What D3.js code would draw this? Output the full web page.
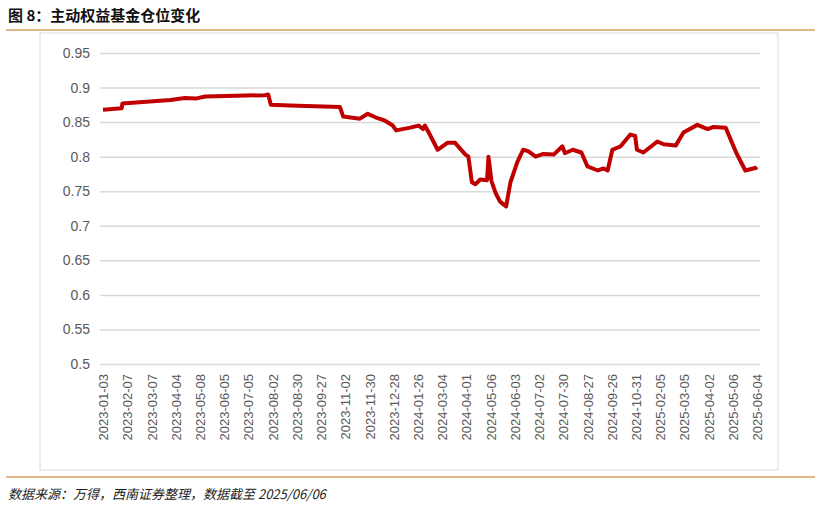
<!DOCTYPE html>
<html><head><meta charset="utf-8">
<script src="https://cdn.jsdelivr.net/npm/d3@7"></script>
<style>body{margin:0;background:#fff;font-family:"Noto Sans CJK SC","Liberation Sans",sans-serif}</style>
</head><body><svg id="chart" width="821" height="508"></svg>
<script>
// tick labels (every ~20 trading days)
const tickLabels = ["2023-01-03","2023-02-07","2023-03-07","2023-04-04","2023-05-08","2023-06-05","2023-07-05","2023-08-02","2023-08-30","2023-09-27","2023-11-02","2023-11-30","2023-12-28","2024-01-26","2024-03-04","2024-04-01","2024-05-06","2024-06-03","2024-07-02","2024-07-30","2024-08-27","2024-09-26","2024-10-31","2025-02-05","2025-03-05","2025-04-02","2025-05-06","2025-06-04"];
const dates = ["2023-01-03","2023-01-30","2023-01-31","2023-03-29","2023-04-17","2023-05-02","2023-05-14","2023-07-24","2023-07-28","2023-07-31","2023-08-22","2023-10-25","2023-10-30","2023-11-19","2023-11-28","2023-12-07","2023-12-18","2023-12-27","2023-12-31","2024-01-17","2024-01-27","2024-02-03","2024-02-06","2024-02-12","2024-02-26","2024-03-10","2024-03-19","2024-03-31","2024-04-04","2024-04-09","2024-04-14","2024-04-21","2024-05-01","2024-05-03","2024-05-07","2024-05-12","2024-05-17","2024-05-24","2024-05-29","2024-06-06","2024-06-13","2024-06-19","2024-06-28","2024-07-07","2024-07-19","2024-07-29","2024-08-01","2024-08-10","2024-08-20","2024-08-27","2024-09-09","2024-09-16","2024-09-21","2024-09-27","2024-10-09","2024-10-23","2024-10-30","2024-11-04","2024-11-30","2025-01-25","2025-02-09","2025-02-23","2025-03-04","2025-03-20","2025-04-01","2025-04-09","2025-04-26","2025-05-10","2025-05-21","2025-06-03","2025-06-04"];
const position = [0.868,0.870,0.877,0.882,0.885,0.884,0.887,0.889,0.890,0.875,0.874,0.872,0.858,0.855,0.862,0.857,0.852,0.845,0.838,0.842,0.845,0.840,0.845,0.835,0.810,0.820,0.820,0.803,0.800,0.763,0.760,0.767,0.766,0.800,0.765,0.747,0.735,0.728,0.763,0.792,0.810,0.808,0.800,0.804,0.803,0.815,0.805,0.810,0.806,0.786,0.780,0.783,0.780,0.810,0.815,0.832,0.830,0.810,0.806,0.822,0.818,0.816,0.835,0.846,0.840,0.843,0.842,0.806,0.780,0.784,0.785];
const yTicks = [0.5,0.55,0.6,0.65,0.7,0.75,0.8,0.85,0.9,0.95];

const svg = d3.select("#chart");
const parse = d3.timeParse("%Y-%m-%d");
const plotLeft = 103, plotRight = 757, plotTop = 53, plotBottom = 364;
const step = (plotRight - plotLeft) / (tickLabels.length - 1);

// piecewise time scale: each tick label gets equal spacing (trading-day axis)
const x = d3.scaleTime()
    .domain(tickLabels.map(parse))
    .range(tickLabels.map((d, i) => plotLeft + i * step));
const y = d3.scaleLinear().domain([0.5, 0.95]).range([plotBottom, plotTop]);

// header
svg.append("text").attr("x", 8).attr("y", 21).text("图 8：主动权益基金仓位变化")
    .style("font-size", "15px").style("font-weight", "bold").attr("fill", "#111");
svg.append("line").attr("x1", 6).attr("x2", 815).attr("y1", 30).attr("y2", 30)
    .attr("stroke", "#d9a35c").attr("stroke-width", 1.5);
svg.append("rect").attr("x", 40).attr("y", 33).attr("width", 738).attr("height", 437)
    .attr("fill", "none").attr("stroke", "#d9d9d9");

// grid + y axis
const yAxis = svg.append("g").attr("transform", `translate(${plotLeft - 3},0)`)
    .call(d3.axisLeft(y).tickValues(yTicks).tickFormat(d3.format("")).tickSize(-(plotRight - plotLeft + 6)).tickPadding(10));
yAxis.select(".domain").remove();
yAxis.selectAll("line").attr("stroke", "#d9d9d9").attr("stroke-width", 1.5);
yAxis.selectAll("text").attr("fill", "#595959").style("font-size", "14px").style("font-family", "Liberation Sans, sans-serif");

// x axis
const xAxis = svg.append("g").attr("transform", `translate(0,${plotBottom + 6})`)
    .call(d3.axisBottom(x).tickValues(tickLabels.map(parse)).tickFormat(d3.timeFormat("%Y-%m-%d")).tickSize(0));
xAxis.select(".domain").remove();
xAxis.selectAll("text").attr("transform", "rotate(-90)").attr("text-anchor", "end")
    .attr("x", -4).attr("y", 0).attr("dy", "0.35em")
    .attr("fill", "#595959").style("font-size", "13px").style("font-family", "Liberation Sans, sans-serif");

// line
const pts = dates.map((d, i) => [parse(d), position[i]]);
svg.append("path").datum(pts)
    .attr("fill", "none").attr("stroke", "#c00000").attr("stroke-width", 4).attr("stroke-linejoin", "round")
    .attr("d", d3.line().x(d => x(d[0])).y(d => y(d[1])));

// footer
svg.append("line").attr("x1", 6).attr("x2", 815).attr("y1", 477).attr("y2", 477)
    .attr("stroke", "#d9a35c").attr("stroke-width", 1.5);
svg.append("text").attr("x", 8).attr("y", 499).text("数据来源：万得，西南证券整理，数据截至 2025/06/06")
    .style("font-size", "13px").style("font-style", "italic").attr("fill", "#222");
</script></body></html>
